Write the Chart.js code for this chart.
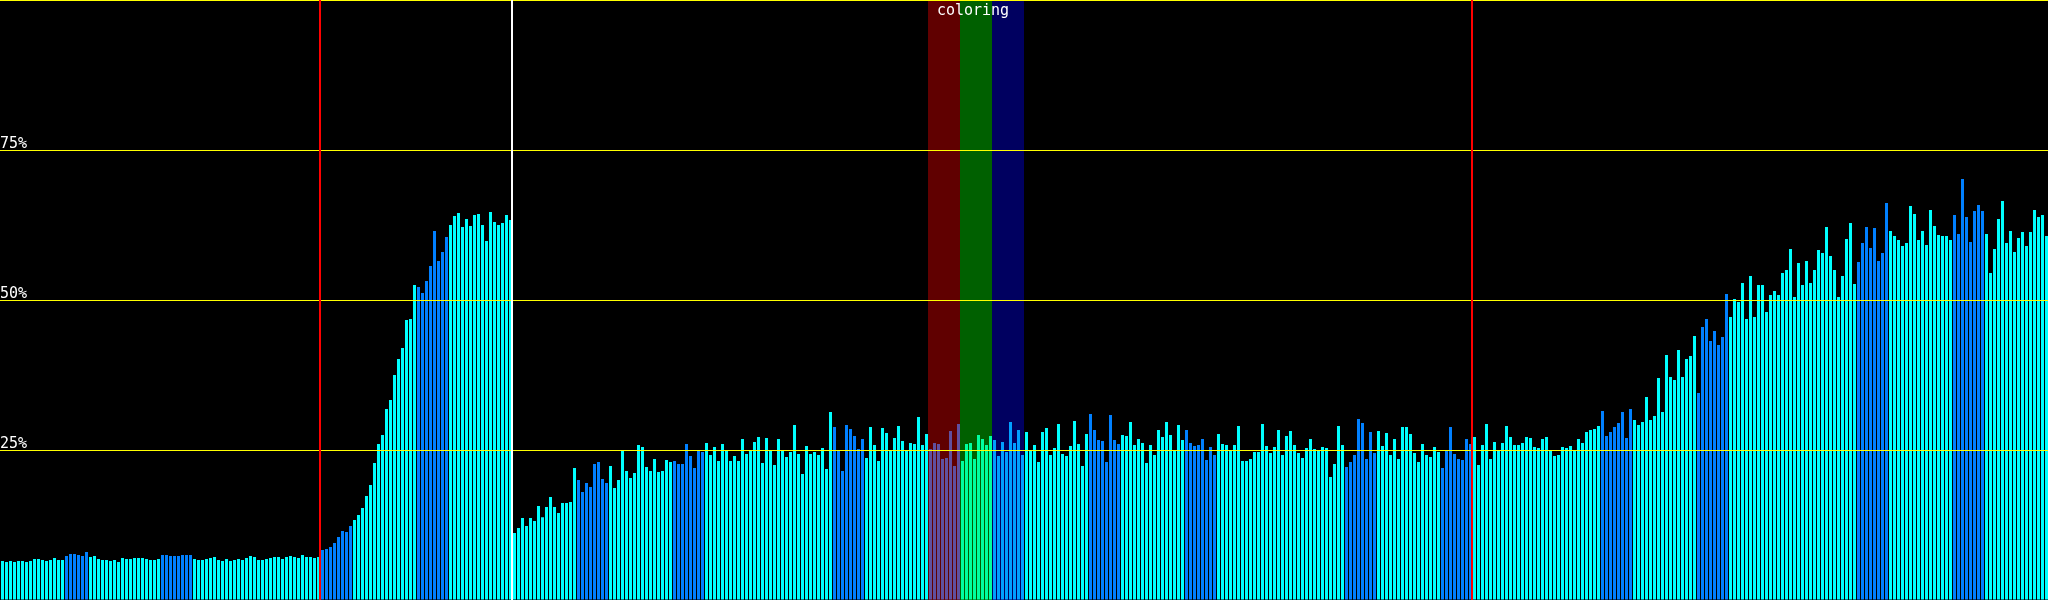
<!DOCTYPE html>
<html><head><meta charset="utf-8">
<script src="https://cdn.jsdelivr.net/npm/chart.js@4/dist/chart.umd.min.js"></script>
<style>html,body{margin:0;padding:0;background:#000;overflow:hidden}#wrap{width:2048px;height:600px}</style>
</head><body><div id="wrap"><canvas id="c" width="2048" height="600"></canvas></div>
<script>
// ---- data (percent values, one per bar) ----
const values = [
6.5,6.33,6.5,6.33,6.5,6.5,6.33,6.5,6.83,6.83,6.67,6.5,6.67,7.0,6.67,6.67,
7.33,7.67,7.67,7.5,7.33,8.0,7.17,7.33,6.83,6.67,6.67,6.5,6.67,6.33,7.0,6.83,
6.83,7.0,7.0,7.0,6.83,6.67,6.67,6.83,7.5,7.5,7.33,7.33,7.33,7.5,7.5,7.5,
6.83,6.67,6.67,6.83,7.0,7.17,6.67,6.5,6.83,6.5,6.67,6.83,6.67,7.0,7.33,7.17,
6.67,6.67,6.83,7.0,7.17,7.17,6.83,7.17,7.33,7.17,7.0,7.5,7.17,7.17,7.0,7.17,
8.33,8.5,8.83,9.5,10.5,11.5,11.33,12.33,13.33,14.17,15.33,17.33,19.17,22.83,26,27.5,
31.83,33.33,37.5,40.17,42,46.67,46.83,52.5,52.17,51.17,53.17,55.67,61.5,56.5,58,60.5,
62.5,64,64.5,62.17,63.5,62.33,64.17,64.33,62.5,59.83,64.67,63,62.5,62.83,64.17,63.33,
11.17,12,13.67,12.33,13.67,13.17,15.67,13.8,15.5,17.17,15.5,14.5,16.17,16.17,16.33,22,
20,18,19.5,18.83,22.67,23,20.17,19.5,22.33,18.67,20,25,21.5,20.33,21.17,25.83,
25.5,22.17,21.5,23.5,21.33,21.5,23.33,23,23.17,22.67,22.67,26,24,22,25,24.67,
26.17,24.17,25.5,23.17,26,25,23.17,24,23.17,26.83,24.33,25,26.33,27.17,22.83,27,
25,22.5,26.83,25,23.83,24.67,29.17,24.33,21,25.67,24.33,24.67,24.17,25.33,21.83,31.33,
28.83,25,21.5,29.17,28.5,27.33,25.17,26.83,23.67,28.83,25.83,23.17,28.67,27.83,25,27,
29,26.5,25,26.17,26,30.5,25.83,27.67,25.17,26.17,26,23.5,23.67,28.17,22.33,29.33,
23.17,26,26.17,23.5,27.5,26.83,25.83,27.33,26.67,24,26.33,24.67,29.67,26.17,28.33,24.17,
28,25,25.83,23,28,28.67,24.17,25.33,29.33,24.33,24,25.67,29.83,26,22.33,27.67,
31,28.33,26.67,26.5,23,30.83,26.67,26,27.5,27.33,29.67,25.83,26.83,26.17,22.83,25.83,
24.17,28.33,27.17,29.67,27.5,25,29.17,26.67,28.33,26.17,25.67,25.83,26.83,23.33,25.5,24.17,
27.67,26,25.83,25,25.83,29,23.17,23.17,23.5,24.67,24.67,29.33,25.67,24.5,25.5,28.33,
24.17,27.33,28.17,25.83,24.5,23.67,25.33,26.83,25.17,25,25.5,25.33,20.5,22.67,29,25.83,
22.17,23,24.17,30.17,29.5,23.5,28,24.5,28.17,25.67,27.83,24.17,26.83,23.5,28.83,28.83,
27.67,24.5,23,26,24.17,23.83,25.5,24.67,22,25,28.83,24.33,23.5,23.33,26.83,26,
27.17,22.5,25.83,29.33,23.5,26.33,25,26.17,29,27.17,25.83,25.83,26.17,27.17,27,25.5,
25.33,26.83,27.17,24.83,24,24.17,25.5,25.33,25.67,25,26.83,26.17,28,28.33,28.5,29,
31.5,27.33,28,28.83,29.5,31.33,27,31.83,30,29.17,29.67,33.83,30,30.67,37,31.33,
40.83,37.17,36.67,41.67,37.17,40.17,40.67,44,34.5,45.5,46.83,43.17,44.83,42.5,43.83,51,
47.17,50.17,49.67,52.83,46.83,54,47.17,52.5,52.5,48,50.83,51.5,50.83,54.5,55,58.5,
50.5,56.17,52.5,56.5,52.83,55,58.33,57.83,62.17,57.33,55,50.5,54,60.17,62.83,52.67,
56.33,59.5,62.17,58.67,62,56.5,57.83,66.17,61.5,60.67,60,59,59.5,65.67,64.33,60,
61.5,59.17,65,62.33,60.83,60.67,60.67,60,64.17,61,70.17,63.83,59.67,64.83,65.83,64.83,
61,54.5,58.5,63.5,66.5,59.5,61.5,58,60.33,61.33,59,61.33,65,63.83,64.17,60.67
];
const categories = values.map((_, i) => i);
// runs of bars drawn in the second (blue) colour, [first, last]
const blueRuns = [[16,21],[40,47],[80,87],[104,111],[144,151],[168,175],[208,215],[232,239],
  [272,279],[296,303],[336,343],[360,367],[400,407],[424,431],[464,471],[488,495]];
const tickLabels = {25: '25%', 50: '50%', 75: '75%'};
const redMarkers = [80, 368];   // vertical red line before this bar
const whiteMarkers = [128];     // vertical white line before this bar
const bandStarts = [232, 240, 248];
const bandEnds = [240, 248, 256];
const bandLabel = 'coloring';

// ---- styles ----
const CYAN = '#00ffff', BLUE = '#0080ff';
const bandColors = ['rgba(255,0,0,0.376)', 'rgba(0,255,0,0.376)', 'rgba(0,0,255,0.376)'];
const barColors = categories.map(i => blueRuns.some(r => i >= r[0] && i <= r[1]) ? BLUE : CYAN);

const shiftPlugin = {
  id: 'shift',
  beforeDatasetsDraw(chart) { chart.ctx.save(); chart.ctx.translate(0.5, 0); },
  afterDatasetsDraw(chart) {
    const ctx = chart.ctx; ctx.restore();
    const x = chart.scales.x, a = chart.chartArea;
    const half = (x.getPixelForValue(1) - x.getPixelForValue(0)) / 2;
    bandStarts.forEach((s, k) => {
      const l = x.getPixelForValue(s) - half, r = x.getPixelForValue(bandEnds[k]) - half;
      ctx.fillStyle = bandColors[k];
      ctx.fillRect(l, a.top, r - l, a.bottom - a.top);
    });
  }
};
const markPlugin = {
  id: 'marks',
  afterDraw(chart) {
    const ctx = chart.ctx, x = chart.scales.x, a = chart.chartArea;
    const half = (x.getPixelForValue(1) - x.getPixelForValue(0)) / 2;
    const line = (i, col) => {
      const px = x.getPixelForValue(i) - half;
      ctx.fillStyle = col;
      ctx.fillRect(px - 1, a.top, 2, a.bottom - a.top);
    };
    redMarkers.forEach(i => line(i, '#ff0000'));
    whiteMarkers.forEach(i => line(i, '#ffffff'));
    const l = x.getPixelForValue(bandStarts[0]) - half;
    const r = x.getPixelForValue(bandEnds[bandEnds.length - 1]) - half;
    ctx.save();
    ctx.fillStyle = '#ffffff';
    ctx.font = '15px "DejaVu Sans Mono"';
    ctx.textAlign = 'center';
    ctx.textBaseline = 'alphabetic';
    ctx.fillText(bandLabel, (l + r) / 2 - 3, a.top + 15);
    ctx.restore();
  }
};

new Chart(document.getElementById('c'), {
  type: 'bar',
  data: {
    labels: categories,
    datasets: [{
      data: values,
      backgroundColor: barColors,
      borderWidth: 0,
      inflateAmount: 0,
      barPercentage: 0.75,
      categoryPercentage: 1.0
    }]
  },
  options: {
    responsive: false,
    animation: false,
    devicePixelRatio: 1,
    layout: { padding: 0 },
    plugins: { legend: { display: false }, tooltip: { enabled: false } },
    scales: {
      x: { display: false, offset: true, grid: { display: false } },
      y: {
        min: 0, max: 100,
        border: { display: false },
        afterFit(s) { s.paddingTop = 0; s.paddingBottom = 0; s.width = 0; },
        grid: {
          color: c => (c.tick && c.tick.value === 0) ? 'rgba(0,0,0,0)' : '#ffff00',
          lineWidth: 1, drawTicks: false, z: 1
        },
        ticks: {
          stepSize: 25, mirror: true, padding: 0, labelOffset: -6,
          color: '#ffffff', font: { family: 'DejaVu Sans Mono', size: 15 },
          callback: v => tickLabels[v] || ''
        }
      }
    }
  },
  plugins: [shiftPlugin, markPlugin]
});
</script></body></html>
